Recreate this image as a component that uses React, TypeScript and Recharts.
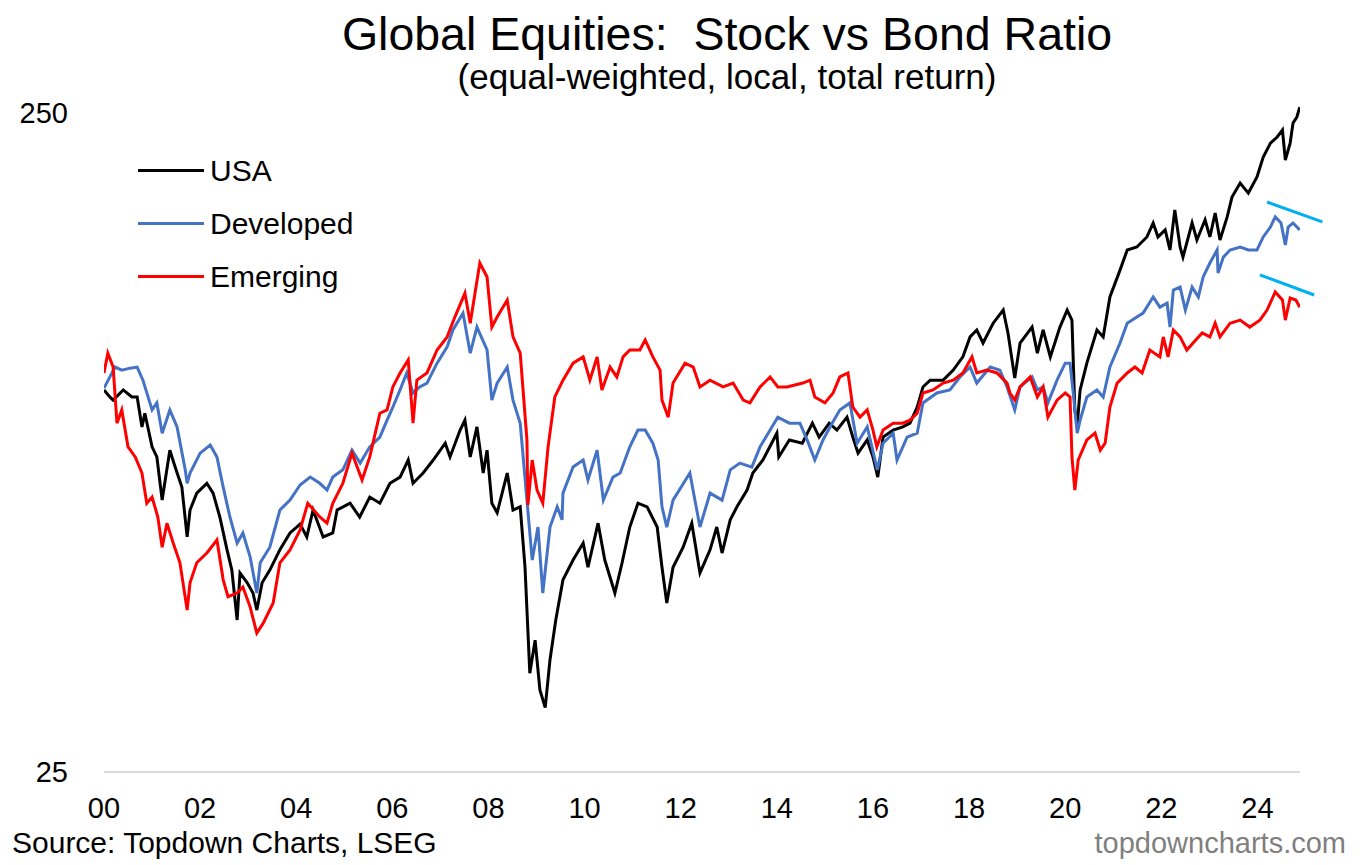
import React from 'react';
import { LineChart, Line, XAxis, YAxis, ReferenceLine } from 'recharts';

const FONT = '"Liberation Sans", Arial, sans-serif';

// [decimal year, ratio]
const usa: [number, number][] = [
  [2000.0, 94.9], [2000.12, 92.6], [2000.19, 91.6], [2000.4, 94.9], [2000.58, 92.6], [2000.69, 92.6], [2000.79, 83.4], [2000.85, 87.5],
  [2001.0, 77.8], [2001.1, 75.1], [2001.21, 64.6], [2001.37, 76.9], [2001.48, 72.5], [2001.62, 67.6], [2001.73, 56.8], [2001.79, 62.4],
  [2001.93, 66.2], [2002.14, 68.5], [2002.27, 66.2], [2002.41, 60.9], [2002.56, 54.3], [2002.66, 50.6], [2002.77, 42.5], [2002.83, 50.1],
  [2002.98, 48.4], [2003.1, 46.7], [2003.18, 44.0], [2003.29, 48.4], [2003.45, 50.6], [2003.66, 54.3], [2003.87, 57.6], [2004.08, 59.4],
  [2004.22, 56.8], [2004.35, 62.4], [2004.56, 56.8], [2004.76, 57.6], [2004.85, 62.4], [2005.12, 63.9], [2005.32, 60.9], [2005.53, 65.3],
  [2005.74, 63.9], [2005.95, 68.5], [2006.16, 70.0], [2006.33, 74.3], [2006.43, 68.5], [2006.64, 71.0], [2006.85, 74.3], [2007.1, 78.8],
  [2007.2, 75.1], [2007.41, 82.5], [2007.51, 85.4], [2007.62, 75.1], [2007.76, 83.4], [2007.89, 71.0], [2007.97, 76.9], [2008.07, 63.9],
  [2008.18, 61.8], [2008.39, 71.0], [2008.51, 62.4], [2008.66, 63.1], [2008.76, 51.1], [2008.86, 35.3], [2008.97, 39.6], [2009.07, 33.3],
  [2009.18, 31.3], [2009.28, 37.0], [2009.4, 42.5], [2009.55, 48.9], [2009.76, 52.4], [2009.97, 55.6], [2010.07, 51.1], [2010.28, 59.6],
  [2010.42, 52.4], [2010.63, 46.7], [2010.78, 51.9], [2010.94, 58.8], [2011.11, 63.9], [2011.3, 63.1], [2011.51, 58.8], [2011.61, 51.1],
  [2011.71, 45.1], [2011.84, 51.1], [2012.05, 54.8], [2012.23, 59.6], [2012.4, 50.1], [2012.61, 54.3], [2012.75, 58.8], [2012.86, 53.7],
  [2013.03, 60.3], [2013.17, 63.1], [2013.38, 66.9], [2013.5, 71.0], [2013.71, 74.3], [2014.0, 81.6], [2014.04, 75.1], [2014.26, 79.7],
  [2014.53, 78.8], [2014.74, 84.5], [2014.88, 80.5], [2015.09, 84.5], [2015.25, 82.5], [2015.46, 86.3], [2015.58, 80.5], [2015.69, 76.1],
  [2015.88, 79.7], [2016.0, 75.1], [2016.1, 70.0], [2016.21, 80.5], [2016.42, 82.5], [2016.62, 83.4], [2016.77, 84.5], [2016.92, 89.4],
  [2017.04, 95.9], [2017.19, 98.2], [2017.46, 98.2], [2017.67, 101.7], [2017.87, 106.5], [2018.02, 114.2], [2018.16, 117.0], [2018.29, 111.8],
  [2018.5, 119.8], [2018.71, 125.4], [2018.81, 115.7], [2018.95, 98.9], [2019.06, 111.8], [2019.31, 118.2], [2019.42, 107.9], [2019.54, 117.0],
  [2019.69, 106.5], [2019.89, 118.2], [2020.04, 125.4], [2020.14, 121.1], [2020.2, 88.5], [2020.25, 83.9], [2020.31, 94.9], [2020.45, 104.2],
  [2020.66, 117.0], [2020.79, 114.2], [2020.93, 131.3], [2021.14, 144.2], [2021.29, 154.7], [2021.49, 156.3], [2021.7, 161.9], [2021.83, 170.0],
  [2021.93, 161.9], [2022.08, 165.9], [2022.18, 154.7], [2022.28, 177.9], [2022.39, 156.3], [2022.45, 150.9], [2022.64, 170.0], [2022.74, 160.2],
  [2022.91, 171.8], [2023.01, 161.9], [2023.12, 176.0], [2023.22, 160.2], [2023.37, 173.6], [2023.47, 186.1], [2023.64, 195.4], [2023.81, 188.7],
  [2023.99, 199.6], [2024.12, 214.0], [2024.27, 224.7], [2024.41, 229.5], [2024.52, 235.2], [2024.58, 211.8], [2024.68, 224.7], [2024.74, 241.0],
  [2024.82, 246.1], [2024.88, 254.8],
];

const developed: [number, number][] = [
  [2000.0, 95.5], [2000.23, 102.8], [2000.37, 101.7], [2000.54, 102.4], [2000.69, 102.8], [2000.81, 98.2], [2001.0, 88.5], [2001.1, 90.7],
  [2001.21, 81.6], [2001.37, 88.5], [2001.52, 83.4], [2001.69, 71.8], [2001.73, 68.5], [2001.79, 71.0], [2002.0, 76.1], [2002.21, 78.3],
  [2002.35, 75.1], [2002.48, 67.6], [2002.62, 60.9], [2002.77, 55.6], [2002.89, 57.6], [2003.04, 53.0], [2003.18, 46.7], [2003.25, 51.9],
  [2003.45, 54.8], [2003.66, 62.4], [2003.87, 64.6], [2004.08, 68.1], [2004.29, 70.0], [2004.49, 68.5], [2004.64, 66.9], [2004.76, 70.0],
  [2004.97, 71.8], [2005.16, 76.9], [2005.33, 73.5], [2005.53, 77.8], [2005.74, 80.5], [2005.89, 85.4], [2006.01, 89.4], [2006.16, 94.9],
  [2006.3, 100.7], [2006.43, 93.9], [2006.57, 95.9], [2006.72, 97.2], [2006.93, 104.2], [2007.14, 110.3], [2007.26, 117.0], [2007.47, 124.1],
  [2007.62, 107.9], [2007.76, 118.2], [2007.97, 109.1], [2008.07, 91.6], [2008.18, 97.2], [2008.39, 102.8], [2008.51, 91.6], [2008.66, 84.5],
  [2008.8, 64.6], [2008.91, 52.4], [2009.03, 58.8], [2009.13, 46.7], [2009.28, 58.8], [2009.43, 63.1], [2009.53, 60.3], [2009.55, 66.2],
  [2009.76, 72.5], [2009.97, 74.3], [2010.07, 69.3], [2010.26, 76.9], [2010.39, 64.6], [2010.59, 70.0], [2010.74, 71.0], [2010.94, 77.8],
  [2011.11, 82.5], [2011.26, 82.5], [2011.42, 78.8], [2011.53, 74.3], [2011.61, 63.1], [2011.71, 58.8], [2011.84, 64.6], [2012.19, 71.0],
  [2012.4, 58.8], [2012.61, 66.2], [2012.86, 64.6], [2013.03, 71.8], [2013.23, 73.5], [2013.48, 72.5], [2013.65, 77.8], [2013.86, 82.5],
  [2014.02, 86.3], [2014.26, 84.5], [2014.48, 84.5], [2014.63, 79.7], [2014.79, 74.3], [2014.96, 79.7], [2015.15, 84.5], [2015.31, 88.5],
  [2015.52, 90.7], [2015.67, 78.8], [2015.88, 83.4], [2016.09, 71.8], [2016.21, 78.8], [2016.42, 81.6], [2016.5, 74.3], [2016.71, 80.5],
  [2016.92, 81.6], [2017.04, 90.7], [2017.33, 93.9], [2017.6, 94.9], [2017.81, 99.3], [2018.02, 102.8], [2018.16, 97.2], [2018.44, 102.8],
  [2018.64, 101.7], [2018.79, 95.9], [2018.95, 88.5], [2019.06, 95.9], [2019.31, 99.3], [2019.42, 94.9], [2019.54, 95.9], [2019.64, 90.7],
  [2019.83, 98.2], [2020.0, 104.2], [2020.1, 104.2], [2020.16, 94.9], [2020.25, 81.6], [2020.31, 85.4], [2020.45, 92.6], [2020.66, 94.9],
  [2020.79, 92.6], [2020.93, 102.8], [2021.14, 111.8], [2021.29, 119.8], [2021.49, 122.4], [2021.62, 124.1], [2021.83, 131.3], [2021.97, 126.7],
  [2022.12, 128.5], [2022.18, 118.2], [2022.25, 134.5], [2022.39, 135.9], [2022.5, 125.4], [2022.64, 135.9], [2022.77, 131.3], [2022.87, 140.8],
  [2023.01, 147.8], [2023.16, 154.7], [2023.18, 142.8], [2023.29, 150.9], [2023.43, 154.7], [2023.64, 156.3], [2023.81, 154.7], [2023.99, 154.7],
  [2024.12, 161.9], [2024.27, 167.6], [2024.37, 173.6], [2024.49, 170.0], [2024.58, 157.4], [2024.64, 167.6], [2024.74, 170.0], [2024.88, 165.9],
];

const emerging: [number, number][] = [
  [2000.0, 100.7], [2000.08, 107.9], [2000.19, 102.8], [2000.27, 84.5], [2000.37, 88.5], [2000.5, 77.8], [2000.65, 75.1], [2000.79, 71.0],
  [2000.89, 63.9], [2001.0, 65.3], [2001.12, 60.9], [2001.21, 54.8], [2001.31, 59.6], [2001.44, 55.6], [2001.58, 51.9], [2001.73, 44.0],
  [2001.79, 48.4], [2001.93, 51.9], [2002.14, 53.7], [2002.35, 56.2], [2002.48, 48.9], [2002.58, 46.1], [2002.77, 46.7], [2002.89, 47.7],
  [2003.04, 44.5], [2003.18, 40.6], [2003.31, 42.0], [2003.52, 45.1], [2003.66, 51.9], [2003.87, 54.3], [2004.08, 58.2], [2004.24, 63.9],
  [2004.49, 60.9], [2004.64, 59.6], [2004.76, 63.9], [2004.97, 68.5], [2005.16, 76.1], [2005.37, 69.3], [2005.53, 75.1], [2005.74, 87.5],
  [2005.89, 88.5], [2006.01, 95.9], [2006.16, 100.7], [2006.33, 105.4], [2006.43, 84.5], [2006.51, 98.2], [2006.72, 100.7], [2006.93, 109.1],
  [2007.14, 114.2], [2007.3, 122.4], [2007.51, 133.1], [2007.62, 119.8], [2007.72, 133.1], [2007.82, 147.8], [2007.97, 140.8], [2008.07, 118.2],
  [2008.18, 122.4], [2008.39, 129.9], [2008.51, 114.2], [2008.66, 107.9], [2008.8, 79.7], [2008.82, 63.5], [2008.91, 74.3], [2009.01, 66.9],
  [2009.13, 63.9], [2009.24, 77.8], [2009.38, 92.6], [2009.55, 98.2], [2009.76, 104.2], [2009.97, 106.5], [2010.11, 98.2], [2010.26, 106.5],
  [2010.36, 94.9], [2010.53, 102.8], [2010.67, 99.3], [2010.8, 106.5], [2010.94, 109.1], [2011.15, 109.1], [2011.26, 113.0], [2011.42, 106.5],
  [2011.57, 101.7], [2011.61, 91.6], [2011.74, 86.3], [2011.84, 97.2], [2012.09, 104.2], [2012.26, 102.8], [2012.4, 95.9], [2012.61, 98.2],
  [2012.88, 95.9], [2013.09, 97.2], [2013.3, 91.6], [2013.44, 90.7], [2013.65, 95.9], [2013.86, 99.3], [2014.02, 95.9], [2014.21, 95.9],
  [2014.54, 97.2], [2014.69, 98.2], [2014.79, 92.6], [2015.0, 90.7], [2015.17, 93.9], [2015.31, 99.3], [2015.48, 100.7], [2015.58, 89.4],
  [2015.73, 86.3], [2015.88, 88.5], [2016.0, 82.5], [2016.08, 77.8], [2016.21, 82.5], [2016.42, 84.5], [2016.62, 84.5], [2016.77, 85.4],
  [2016.92, 87.5], [2017.04, 93.9], [2017.25, 94.9], [2017.46, 97.2], [2017.67, 98.2], [2017.87, 100.7], [2018.06, 106.5], [2018.16, 100.7],
  [2018.37, 101.7], [2018.58, 100.7], [2018.79, 97.2], [2018.85, 93.9], [2018.95, 91.6], [2019.06, 95.9], [2019.27, 99.3], [2019.42, 92.6],
  [2019.54, 95.9], [2019.64, 86.3], [2019.83, 91.6], [2020.0, 93.9], [2020.1, 92.6], [2020.14, 75.1], [2020.2, 66.9], [2020.27, 74.3],
  [2020.45, 79.7], [2020.62, 81.6], [2020.73, 76.9], [2020.83, 78.8], [2020.93, 89.4], [2021.08, 97.2], [2021.29, 100.7], [2021.45, 102.8],
  [2021.6, 100.7], [2021.76, 109.1], [2021.97, 106.5], [2022.04, 114.2], [2022.14, 106.5], [2022.25, 117.0], [2022.39, 114.2], [2022.53, 109.1],
  [2022.66, 111.8], [2022.85, 115.8], [2023.01, 114.2], [2023.12, 119.8], [2023.22, 114.2], [2023.43, 119.8], [2023.64, 121.1], [2023.84, 118.2],
  [2024.05, 121.1], [2024.2, 125.4], [2024.37, 133.6], [2024.52, 129.9], [2024.58, 121.1], [2024.68, 130.8], [2024.8, 129.9], [2024.88, 126.7],
];

// annotation trend segments: [year, ratio]
const developedTrend: [number, number][] = [[2024.2, 182.9], [2025.35, 170.6]];
const emergingTrend: [number, number][] = [[2024.05, 141.8], [2025.18, 132.2]];

const yearTicks = [2000, 2002, 2004, 2006, 2008, 2010, 2012, 2014, 2016, 2018, 2020, 2022, 2024];
const valueTicks = [25, 250];

const seriesNames = ['USA', 'Developed', 'Emerging'];
const seriesColors = ['#000000', '#4472C4', '#FF0000'];

const toRows = (s: [number, number][]) => s.map(([year, value]) => ({ year, value }));

export default function App() {
  const all = [usa, developed, emerging];
  const tickStyle = { fill: '#000000', fontSize: 29, fontFamily: FONT };
  return (
    <div style={{ position: 'absolute', left: 0, top: 0, width: 1362, height: 865, background: '#ffffff' }}>
      <LineChart width={1362} height={865} margin={{ top: 99.08, right: 62, bottom: 53, left: 44 }}>
        <XAxis
          type="number"
          dataKey="year"
          domain={[2000, 2024.885]}
          allowDataOverflow
          ticks={yearTicks}
          interval={0}
          tickFormatter={(v: number) => String(v % 100).padStart(2, '0')}
          height={40}
          axisLine={{ stroke: '#D9D9D9', strokeWidth: 2 }}
          tickLine={false}
          tickSize={0}
          tickMargin={25}
          tick={tickStyle}
        />
        <YAxis
          type="number"
          scale="log"
          domain={[25, 262]}
          allowDataOverflow
          ticks={valueTicks}
          interval={0}
          width={60}
          axisLine={false}
          tickLine={false}
          tickSize={0}
          tickMargin={36}
          tick={tickStyle}
        />
        {all.map((s, i) => (
          <Line
            key={seriesNames[i]}
            data={toRows(s)}
            dataKey="value"
            name={seriesNames[i]}
            type="linear"
            stroke={seriesColors[i]}
            strokeWidth={3}
            dot={false}
            activeDot={false}
            isAnimationActive={false}
          />
        ))}
        <ReferenceLine
          segment={developedTrend.map(([x, y]) => ({ x, y }))}
          stroke="#00B0F0"
          strokeWidth={3}
          ifOverflow="visible"
        />
        <ReferenceLine
          segment={emergingTrend.map(([x, y]) => ({ x, y }))}
          stroke="#00B0F0"
          strokeWidth={3}
          ifOverflow="visible"
        />
      </LineChart>
      <svg
        width={1362}
        height={865}
        style={{ position: 'absolute', left: 0, top: 0, pointerEvents: 'none' }}
        fontFamily={FONT}
      >
        <text x={727} y={50} fontSize={46.5} textAnchor="middle" fill="#000">
          Global Equities:{'\u00a0\u00a0'}Stock vs Bond Ratio
        </text>
        <text x={727} y={89} fontSize={35} textAnchor="middle" fill="#000">
          (equal-weighted, local, total return)
        </text>
        {seriesNames.map((n, i) => (
          <g key={n}>
            <line x1={138} x2={204} y1={170.5 + i * 53} y2={170.5 + i * 53} stroke={seriesColors[i]} strokeWidth={3} />
            <text x={210} y={181 + i * 53} fontSize={30} fill="#000">
              {n}
            </text>
          </g>
        ))}
        <text x={12} y={853} fontSize={30} fill="#000">
          Source: Topdown Charts, LSEG
        </text>
        <text x={1346} y={853} fontSize={29} textAnchor="end" fill="#7F7F7F">
          topdowncharts.com
        </text>
      </svg>
    </div>
  );
}
